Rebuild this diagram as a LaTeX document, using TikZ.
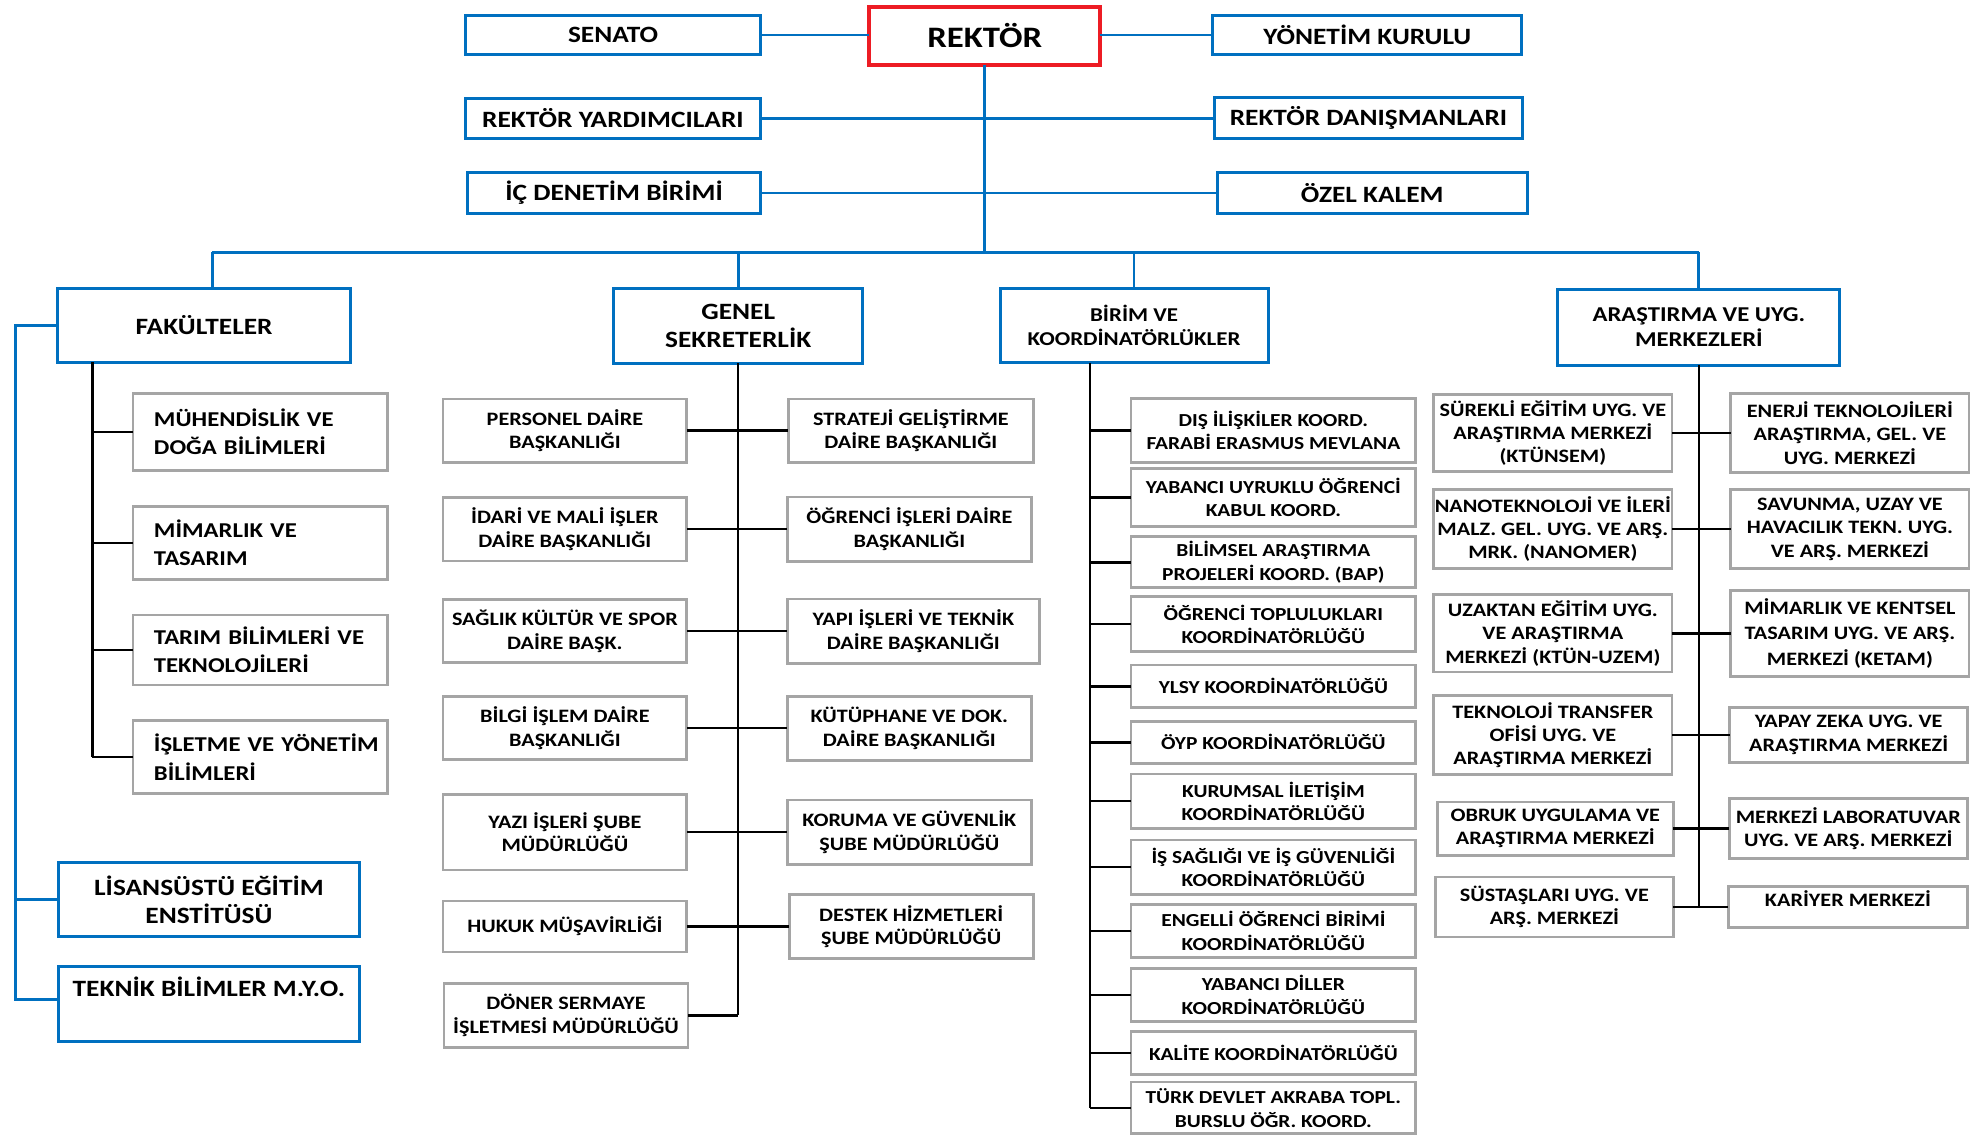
\documentclass[tikz,border=0pt]{standalone}
\usepackage{fontspec}
\setmainfont{Carlito}[FakeStretch=1.17]
\definecolor{cblue}{RGB}{0,112,192}
\definecolor{cred}{RGB}{237,28,36}
\definecolor{cgray}{RGB}{165,165,165}
\begin{document}
\begin{tikzpicture}[x=1pt,y=-1pt,
  base/.style={rectangle, inner sep=0pt, outer sep=0pt, text=black, align=center},
  bbox/.style={base, draw=cblue, line width=2.4pt},
  rbox/.style={base, draw=cred, line width=3pt},
  gbox/.style={base, draw=cgray, line width=2.2pt},
  bl/.style={draw=cblue, line width=2.2pt},
  kl/.style={draw=black, line width=2pt},
  fTop/.style={font=\bfseries\fontsize{18.5}{22.4}\selectfont},
  fRek/.style={font=\bfseries\fontsize{23.5}{26}\selectfont},
  fBk/.style={font=\bfseries\fontsize{15.5}{18.7}\selectfont},
  fAr/.style={font=\bfseries\fontsize{16.7}{19.8}\selectfont},
  fFc/.style={font=\bfseries\fontsize{16.7}{22.4}\selectfont},
  fGs/.style={font=\bfseries\fontsize{15}{18.5}\selectfont},
  fBc/.style={font=\bfseries\fontsize{14.5}{18.5}\selectfont},
  fAc/.style={font=\bfseries\fontsize{15}{18.5}\selectfont},
  fcbox/.style={gbox, fFc, align=left, text width=168.2pt, minimum width=201.4pt}
]
\useasboundingbox (0,0) rectangle (1568,898);

% ---------- top level ----------
\node[bbox,fTop,minimum width=233pt,minimum height=31.5pt] (sen) at (485,27.7) {SENATO};
\node[rbox,fRek,minimum width=182.7pt,minimum height=46pt] (rek) at (779,28.3) {REKTÖR};
\node[bbox,fTop,minimum width=244.2pt,minimum height=31.5pt] (yk) at (1081.7,27.7) {YÖNETİM KURULU};
\node[bbox,fTop,minimum width=233pt,minimum height=31.6pt] (ry) at (484.9,93.5) {REKTÖR YARDIMCILARI};
\node[bbox,fTop,minimum width=244pt,minimum height=32pt] (rd) at (1082.6,93.5) {REKTÖR DANIŞMANLARI};
\node[bbox,fTop,minimum width=232pt,minimum height=32.2pt] (icd) at (485.8,152.7) {İÇ DENETİM BİRİMİ};
\node[bbox,fTop,minimum width=245pt,minimum height=32.2pt] (ozk) at (1085.6,152.7) {ÖZEL KALEM};

% ---------- second level ----------
\node[bbox,fTop,minimum width=232pt,minimum height=58.7pt] (fak) at (161.5,257.4) {FAKÜLTELER};
\node[bbox,fTop,minimum width=196.8pt,minimum height=59pt] (gs) at (584,257.9) {GENEL\\SEKRETERLİK};
\node[bbox,fBk,minimum width=212pt,minimum height=59pt] (bk) at (897.2,257.5) {BİRİM VE\\KOORDİNATÖRLÜKLER};
\node[bbox,fAr,minimum width=223pt,minimum height=59.4pt] (ar) at (1344,259.1) {ARAŞTIRMA VE UYG.\\MERKEZLERİ};

% ---------- faculties ----------
\node[fcbox,minimum height=61.2pt] (muh) at (205.9,341.8) {\mbox{MÜHENDİSLİK VE}\\\mbox{DOĞA BİLİMLERİ}};
\node[fcbox,minimum height=57.5pt] (mim) at (205.9,429.6) {\mbox{MİMARLIK VE}\\\mbox{TASARIM}};
\node[fcbox,minimum height=55.4pt] (tar) at (205.9,514.2) {\mbox{TARIM BİLİMLERİ VE}\\\mbox{TEKNOLOJİLERİ}};
\node[fcbox,minimum height=58pt] (isl) at (205.9,599) {\mbox{İŞLETME VE YÖNETİM}\\\mbox{BİLİMLERİ}};
\node[bbox,fTop,minimum width=238.8pt,minimum height=58.8pt] (lis) at (165.3,711.6) {LİSANSÜSTÜ EĞİTİM\\ENSTİTÜSÜ};
\node[bbox,fTop,minimum width=238.8pt,minimum height=59.3pt] (tbm) at (165.3,794.5) {\raisebox{5.8pt}[0pt][0pt]{TEKNİK BİLİMLER M.Y.O.}};

% ---------- general secretariat ----------
\node[gbox,fGs,minimum width=193pt,minimum height=50pt] (per) at (446.9,340.6) {PERSONEL DAİRE\\BAŞKANLIĞI};
\node[gbox,fGs,minimum width=193.8pt,minimum height=50pt] (str) at (720.6,340.6) {STRATEJİ GELİŞTİRME\\DAİRE BAŞKANLIĞI};
\node[gbox,fGs,minimum width=193pt,minimum height=50.3pt] (ida) at (446.9,418.6) {İDARİ VE MALİ İŞLER\\DAİRE BAŞKANLIĞI};
\node[gbox,fGs,minimum width=193.3pt,minimum height=50.8pt] (ogr) at (719.4,418.6) {ÖĞRENCİ İŞLERİ DAİRE\\BAŞKANLIĞI};
\node[gbox,fGs,minimum width=193pt,minimum height=50pt] (sag) at (446.9,499.3) {SAĞLIK KÜLTÜR VE SPOR\\DAİRE BAŞK.};
\node[gbox,fGs,minimum width=199.8pt,minimum height=51pt] (yap) at (722.6,499.3) {YAPI İŞLERİ VE TEKNİK\\DAİRE BAŞKANLIĞI};
\node[gbox,fGs,minimum width=193pt,minimum height=50pt] (bil) at (446.9,576.1) {BİLGİ İŞLEM DAİRE\\BAŞKANLIĞI};
\node[gbox,fGs,minimum width=193.3pt,minimum height=50.6pt] (kut) at (719.4,576.1) {KÜTÜPHANE VE DOK.\\DAİRE BAŞKANLIĞI};
\node[gbox,fGs,minimum width=193pt,minimum height=60pt] (yaz) at (446.9,658.3) {YAZI İŞLERİ ŞUBE\\MÜDÜRLÜĞÜ};
\node[gbox,fGs,minimum width=193.3pt,minimum height=51pt] (kor) at (719.4,658.3) {KORUMA VE GÜVENLİK\\ŞUBE MÜDÜRLÜĞÜ};
\node[gbox,fGs,minimum width=193pt,minimum height=40.4pt] (huk) at (446.9,733) {HUKUK MÜŞAVİRLİĞİ};
\node[gbox,fGs,minimum width=193.2pt,minimum height=51pt] (des) at (720.9,733) {DESTEK HİZMETLERİ\\ŞUBE MÜDÜRLÜĞÜ};
\node[gbox,fGs,minimum width=193.1pt,minimum height=50.6pt] (don) at (447.8,803.3) {DÖNER SERMAYE\\İŞLETMESİ MÜDÜRLÜĞÜ};

% ---------- units and coordinators ----------
\node[gbox,fBc,minimum width=225.2pt,minimum height=50.4pt] (dis) at (1007.4,340.5) {DIŞ İLİŞKİLER KOORD.\\FARABİ ERASMUS MEVLANA};
\node[gbox,fBc,minimum width=225.2pt,minimum height=46.2pt] (yab) at (1007.4,393.6) {YABANCI UYRUKLU ÖĞRENCİ\\KABUL KOORD.};
\node[gbox,fBc,minimum width=225.2pt,minimum height=40.3pt] (bap) at (1007.4,444.8) {BİLİMSEL ARAŞTIRMA\\PROJELERİ KOORD. (BAP)};
\node[gbox,fBc,minimum width=225.2pt,minimum height=43.6pt] (otk) at (1007.4,493.8) {ÖĞRENCİ TOPLULUKLARI\\KOORDİNATÖRLÜĞÜ};
\node[gbox,fBc,minimum width=225.2pt,minimum height=33.8pt] (yls) at (1007.4,543) {YLSY KOORDİNATÖRLÜĞÜ};
\node[gbox,fBc,minimum width=225.2pt,minimum height=33pt] (oyp) at (1007.4,587.2) {ÖYP KOORDİNATÖRLÜĞÜ};
\node[gbox,fBc,minimum width=225.2pt,minimum height=43pt] (kur) at (1007.4,633.8) {KURUMSAL İLETİŞİM\\KOORDİNATÖRLÜĞÜ};
\node[gbox,fBc,minimum width=225.2pt,minimum height=43pt] (isg) at (1007.4,686) {İŞ SAĞLIĞI VE İŞ GÜVENLİĞİ\\KOORDİNATÖRLÜĞÜ};
\node[gbox,fBc,minimum width=225.2pt,minimum height=42.5pt] (eng) at (1007.4,736.5) {ENGELLİ ÖĞRENCİ BİRİMİ\\KOORDİNATÖRLÜĞÜ};
\node[gbox,fBc,minimum width=225.2pt,minimum height=42.2pt] (ydk) at (1007.4,787.2) {YABANCI DİLLER\\KOORDİNATÖRLÜĞÜ};
\node[gbox,fBc,minimum width=225.2pt,minimum height=33.8pt] (kal) at (1007.4,833.1) {KALİTE KOORDİNATÖRLÜĞÜ};
\node[gbox,fBc,minimum width=225.2pt,minimum height=41pt] (tdk) at (1007.4,876.5) {TÜRK DEVLET AKRABA TOPL.\\BURSLU ÖĞR. KOORD.};

% ---------- research centres ----------
\node[gbox,fAc,minimum width=188.6pt,minimum height=61.2pt] (sur) at (1228.5,342.5) {SÜREKLİ EĞİTİM UYG. VE\\ARAŞTIRMA MERKEZİ\\(KTÜNSEM)};
\node[gbox,fAc,minimum width=188.5pt,minimum height=62.5pt] (ene) at (1463.5,342.5) {ENERJİ TEKNOLOJİLERİ\\ARAŞTIRMA, GEL. VE\\UYG. MERKEZİ};
\node[gbox,fAc,minimum width=188.6pt,minimum height=62.7pt] (nan) at (1228.5,418.5) {NANOTEKNOLOJİ VE İLERİ\\MALZ. GEL. UYG. VE ARŞ.\\MRK. (NANOMER)};
\node[gbox,fAc,minimum width=188.5pt,minimum height=62pt] (sav) at (1463.5,418.5) {SAVUNMA, UZAY VE\\HAVACILIK TEKN. UYG.\\VE ARŞ. MERKEZİ};
\node[gbox,fAc,minimum width=188.6pt,minimum height=61.2pt] (uza) at (1228.5,501) {UZAKTAN EĞİTİM UYG.\\VE ARAŞTIRMA\\MERKEZİ (KTÜN-UZEM)};
\node[gbox,font=\bfseries\fontsize{15}{20.3}\selectfont,minimum width=188.5pt,minimum height=67.8pt] (mkt) at (1463.5,501) {MİMARLIK VE KENTSEL\\TASARIM UYG. VE ARŞ.\\MERKEZİ (KETAM)};
\node[gbox,fAc,minimum width=188.6pt,minimum height=62pt] (tek) at (1228.5,581.5) {TEKNOLOJİ TRANSFER\\OFİSİ UYG. VE\\ARAŞTIRMA MERKEZİ};
\node[gbox,fAc,minimum width=188.5pt,minimum height=44pt] (yze) at (1462.5,581.5) {YAPAY ZEKA UYG. VE\\ARAŞTIRMA MERKEZİ};
\node[gbox,fAc,minimum width=186.9pt,minimum height=42.2pt] (obr) at (1230.4,655.5) {OBRUK UYGULAMA VE\\ARAŞTIRMA MERKEZİ};
\node[gbox,fAc,minimum width=188.5pt,minimum height=47pt] (mlb) at (1462.2,655.5) {MERKEZİ LABORATUVAR\\UYG. VE ARŞ. MERKEZİ};
\node[gbox,fAc,minimum width=188.4pt,minimum height=47.5pt] (sus) at (1229.7,717.5) {SÜSTAŞLARI UYG. VE\\ARŞ. MERKEZİ};
\node[gbox,fAc,minimum width=189pt,minimum height=32.4pt] (kar) at (1461.9,717.5) {\raisebox{0pt}[0pt][0pt]{KARİYER MERKEZİ}};

% ---------- blue connectors ----------
\coordinate (bus) at (779,199.6);
\coordinate (d1) at (168,199.6);
\coordinate (d4) at (1344,199.6);
\draw[bl] (sen.east) -- (sen.east -| rek.west);
\draw[bl] (yk.west -| rek.east) -- (yk.west);
\draw[bl] (rek.south) -- (bus);
\draw[bl] (ry.east) -- (rd.west);
\draw[bl] (icd.east) -- (ozk.west);
\draw[bl] (d1) -- (d4);
\draw[bl] (d1) -- (d1 |- fak.north);
\draw[bl] (gs.north |- bus) -- (gs.north);
\draw[bl] (bk.north |- bus) -- (bk.north);
\draw[bl] (d4) -- (ar.north);
\coordinate (lx) at (12.5,257);
\draw[bl] (fak.west) -- (fak.west -| lx) |- ([yshift=3.9pt]tbm.west);
\draw[bl] (lx |- lis.west) -- (lis.west);

% ---------- black connectors ----------
\coordinate (fx) at (73.1,300);
\draw[kl] (fak.south -| fx) -- (fx |- isl.west);
\foreach \n in {muh,mim,tar,isl} \draw[kl] (fx |- \n.west) -- (\n.west);

\draw[kl] (gs.south) -- (gs.south |- don.east);
\draw[kl] (don.east) -- (don.east -| gs.south);
\draw[kl] (per.east) -- (str.west);
\draw[kl] (ida.east) -- (ogr.west);
\draw[kl] (sag.east) -- (yap.west);
\draw[kl] (bil.east) -- (kut.west);
\draw[kl] (yaz.east) -- (kor.west);
\draw[kl] (huk.east) -- (des.west);

\coordinate (bx) at (862.3,300);
\draw[kl] (bk.south -| bx) -- (bx |- tdk.west);
\foreach \n in {dis,yab,bap,otk,yls,oyp,kur,isg,eng,ydk,kal,tdk} \draw[kl] (bx |- \n.west) -- (\n.west);

\draw[kl] (ar.south) -- (ar.south |- kar.west);
\draw[kl] (sur.east) -- (ene.west);
\draw[kl] (nan.east) -- (sav.west);
\draw[kl] (uza.east) -- (mkt.west);
\draw[kl] (tek.east) -- (yze.west);
\draw[kl] (obr.east) -- (mlb.west);
\draw[kl] (sus.east) -- (kar.west);
\end{tikzpicture}
\end{document}
